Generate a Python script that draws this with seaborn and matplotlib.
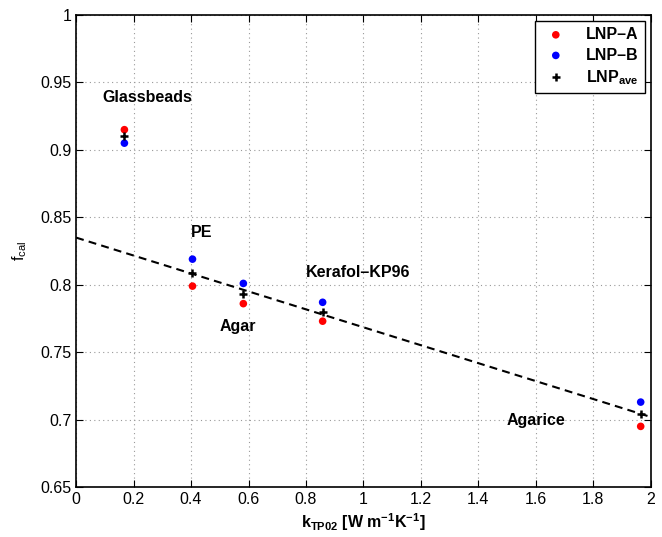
import numpy as np
import pandas as pd
import seaborn as sns
import matplotlib
matplotlib.use('Agg')
import matplotlib.pyplot as plt
from matplotlib.ticker import FormatStrFormatter, MultipleLocator

# materials and thermal conductivity k_TP02
materials = ['Glassbeads', 'PE', 'Agar', 'Kerafol\u2013KP96', 'Agarice']
k_tp02 = [0.168, 0.405, 0.582, 0.858, 1.965]

# calibration factors
f_lnp_a = [0.915, 0.799, 0.786, 0.773, 0.695]
f_lnp_b = [0.905, 0.819, 0.801, 0.787, 0.713]
f_lnp_ave = [0.910, 0.809, 0.7935, 0.780, 0.704]

# label positions (left edge, vertical centre)
label_x = [0.09, 0.40, 0.50, 0.80, 1.50]
label_y = [0.939, 0.839, 0.769, 0.809, 0.699]


if __name__ == '__main__':

  sns.set_style('white')
  plt.rcParams['font.family'] = ['Liberation Sans', 'DejaVu Sans']
  plt.rcParams['mathtext.fontset'] = 'custom'
  plt.rcParams['mathtext.rm'] = 'Liberation Sans'
  plt.rcParams['mathtext.it'] = 'Liberation Sans:italic'
  plt.rcParams['mathtext.bf'] = 'Liberation Sans:bold'
  for key in ('text.color', 'axes.labelcolor', 'xtick.color', 'ytick.color'):
    plt.rcParams[key] = 'black'

  data = pd.DataFrame({'k': k_tp02, 'A': f_lnp_a, 'B': f_lnp_b, 'ave': f_lnp_ave})

  fig, ax = plt.subplots(nrows=1, ncols=1, figsize=(6.62, 5.37), dpi=100)
  fig.subplots_adjust(left=0.115, right=0.983, top=0.972, bottom=0.093)

  ax.set_xlim(0, 2)
  ax.set_ylim(0.65, 1)

  sns.scatterplot(x='k', y='A', data=data, ax=ax, color='red', s=30,
                  edgecolor='none', label='LNP\u2013A', zorder=3)
  sns.scatterplot(x='k', y='B', data=data, ax=ax, color='blue', s=30,
                  edgecolor='none', label='LNP\u2013B', zorder=3)
  ax.plot(data.k, data.ave, linestyle='none', marker='+', color='black',
          markersize=6, markeredgewidth=1.8, label=r'LNP$_{\mathbf{ave}}$', zorder=4)

  # linear fit of the average (Glassbeads excluded)
  sns.regplot(x='k', y='ave', data=data.iloc[1:], ax=ax, scatter=False,
              ci=None, truncate=False,
              line_kws=dict(color='black', linestyle=(0, (3.8, 2.5)), lw=1.5, zorder=5))

  for name, x, y in zip(materials, label_x, label_y):
    ax.text(x, y, name, fontsize=11.5, fontweight='bold', ha='left', va='center')

  ax.set_xlim(0, 2)
  ax.set_ylim(0.65, 1)
  ax.xaxis.set_major_locator(MultipleLocator(0.2))
  ax.yaxis.set_major_locator(MultipleLocator(0.05))
  ax.xaxis.set_major_formatter(FormatStrFormatter('%g'))
  ax.yaxis.set_major_formatter(FormatStrFormatter('%g'))

  ax.grid(True, linestyle=(0, (1, 3)), color='#999999', lw=0.8)
  ax.tick_params(direction='in', length=5, width=0.8, labelsize=11.5,
                 top=True, right=True, bottom=True, left=True)
  for spine in ax.spines.values():
    spine.set_visible(True)
    spine.set_color('black')
    spine.set_linewidth(1.2)

  ax.set_xlabel(r'k$_{\mathbf{TP02}}$ [W m$^{\mathbf{-1}}$K$^{\mathbf{-1}}$]',
                fontsize=11.5, fontweight='bold', labelpad=3)
  ax.set_ylabel(r'f$_{\mathrm{cal}}$', fontsize=11.5, labelpad=8)

  leg = ax.legend(loc='upper right', fontsize=11.5, frameon=True, fancybox=False,
                  edgecolor='black', framealpha=1, handletextpad=1.0,
                  borderpad=0.4, labelspacing=0.35, handlelength=1.8,
                  bbox_to_anchor=(1.0, 1.0), borderaxespad=0.35)
  leg.get_frame().set_linewidth(1)
  for t in leg.get_texts():
    t.set_fontweight('bold')

  fig.savefig('out.png', dpi=100)
